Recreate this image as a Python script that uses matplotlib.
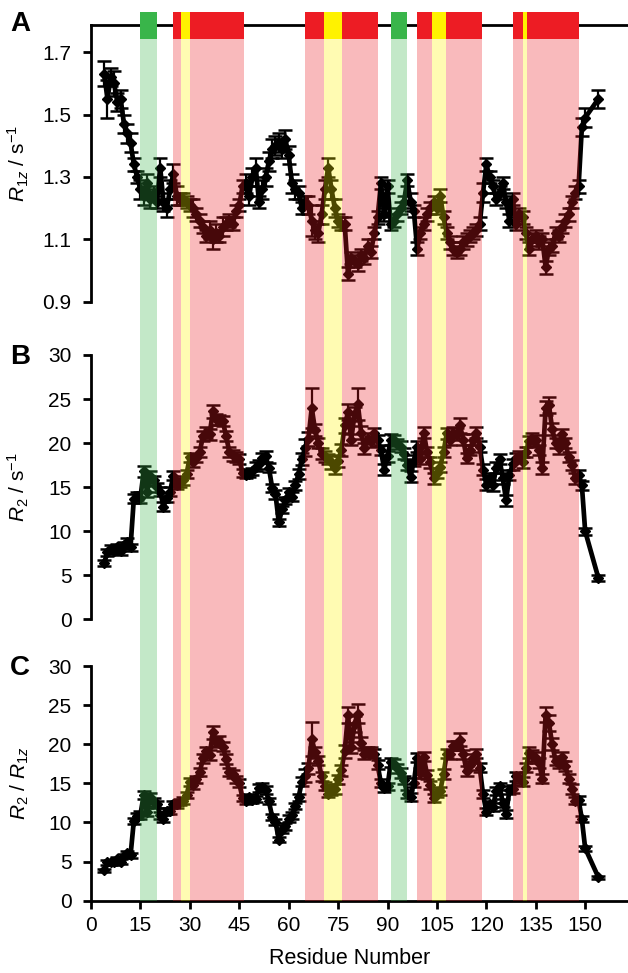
import matplotlib
matplotlib.use('Agg')
import matplotlib.pyplot as plt

plt.rcParams['font.family'] = ['Liberation Sans', 'DejaVu Sans']
plt.rcParams['mathtext.fontset'] = 'custom'
plt.rcParams['mathtext.rm'] = 'Liberation Sans'
plt.rcParams['mathtext.it'] = 'Liberation Sans:italic'

# residue numbers
residues = list(range(4, 151)) + [154]

r1z = [1.63, 1.55, 1.62, 1.60, 1.54, 1.55, 1.47, 1.44, 1.41, 1.34,
       1.30, 1.26, 1.24, 1.28, 1.23, 1.25, 1.22, 1.33, 1.22, 1.20,
       1.26, 1.31, 1.24, 1.23, 1.23, 1.22, 1.21, 1.20, 1.18, 1.16,
       1.14, 1.11, 1.13, 1.10, 1.12, 1.11, 1.14, 1.15, 1.16, 1.15,
       1.19, 1.21, 1.27, 1.28, 1.24, 1.30, 1.33, 1.22, 1.26, 1.30,
       1.35, 1.39, 1.40, 1.41, 1.39, 1.42, 1.37, 1.28, 1.26, 1.25,
       1.20, 1.22, 1.21, 1.16, 1.13, 1.12, 1.18, 1.26, 1.33, 1.26,
       1.20, 1.16, 1.15, 1.15, 0.99, 1.04, 1.03, 1.02, 1.05, 1.04,
       1.08, 1.06, 1.12, 1.17, 1.28, 1.18, 1.27, 1.15, 1.16, 1.18,
       1.20, 1.22, 1.29, 1.22, 1.19, 1.07, 1.12, 1.15, 1.18, 1.20,
       1.22, 1.20, 1.24, 1.17, 1.12, 1.09, 1.07, 1.06, 1.07, 1.09,
       1.10, 1.11, 1.12, 1.13, 1.15, 1.25, 1.34, 1.30, 1.27, 1.23,
       1.25, 1.28, 1.22, 1.16, 1.23, 1.15, 1.18, 1.17, 1.12, 1.07,
       1.10, 1.11, 1.09, 1.10, 1.01, 1.07, 1.08, 1.12, 1.11, 1.14,
       1.16, 1.18, 1.22, 1.25, 1.27, 1.46, 1.49, 1.55]
r1z_err = [0.04, 0.06, 0.03, 0.04, 0.03, 0.03, 0.03, 0.03, 0.03, 0.02,
           0.02, 0.03, 0.03, 0.03, 0.03, 0.02, 0.02, 0.03, 0.03, 0.03,
           0.03, 0.03, 0.03, 0.02, 0.02, 0.02, 0.02, 0.03, 0.02, 0.02,
           0.02, 0.02, 0.03, 0.03, 0.03, 0.02, 0.03, 0.02, 0.02, 0.02,
           0.02, 0.02, 0.02, 0.03, 0.03, 0.03, 0.03, 0.02, 0.03, 0.03,
           0.03, 0.03, 0.03, 0.03, 0.03, 0.03, 0.03, 0.03, 0.03, 0.02,
           0.02, 0.02, 0.03, 0.05, 0.03, 0.03, 0.03, 0.03, 0.03, 0.03,
           0.03, 0.02, 0.02, 0.02, 0.02, 0.02, 0.02, 0.02, 0.02, 0.02,
           0.02, 0.02, 0.02, 0.02, 0.02, 0.02, 0.02, 0.02, 0.02, 0.02,
           0.02, 0.02, 0.02, 0.03, 0.02, 0.02, 0.02, 0.02, 0.02, 0.02,
           0.02, 0.02, 0.02, 0.02, 0.02, 0.02, 0.02, 0.02, 0.02, 0.02,
           0.02, 0.02, 0.02, 0.02, 0.02, 0.03, 0.02, 0.02, 0.02, 0.02,
           0.02, 0.02, 0.02, 0.02, 0.02, 0.02, 0.02, 0.02, 0.02, 0.02,
           0.02, 0.02, 0.02, 0.02, 0.02, 0.02, 0.02, 0.02, 0.02, 0.02,
           0.02, 0.02, 0.02, 0.02, 0.02, 0.03, 0.03, 0.03]

r2 = [6.4, 7.6, 8.0, 7.8, 8.2, 7.7, 8.4, 8.8, 8.2, 13.7,
      14.0, 13.8, 16.8, 14.5, 16.3, 15.8, 15.0, 14.5, 12.8, 13.8,
      14.5, 16.3, 15.3, 15.5, 15.8, 16.5, 18.4, 17.8, 18.3, 19.0,
      20.8, 21.2, 21.0, 23.6, 22.7, 22.6, 22.5, 20.8, 19.0, 18.6,
      18.4, 18.2, 16.6, 16.4, 16.5, 16.8, 17.3, 17.6, 18.3, 18.5,
      17.2, 14.9, 14.2, 11.0, 12.5, 13.5, 14.4, 13.9, 15.2, 16.5,
      18.2, 19.5, 20.5, 24.0, 21.5, 20.0, 18.8, 18.5, 18.2, 17.8,
      17.2, 18.0, 19.2, 22.0, 23.5, 20.4, 23.3, 24.4, 21.2, 19.4,
      20.5, 20.2, 21.1, 20.3, 19.2, 17.0, 18.5, 20.4, 20.3, 19.9,
      19.6, 18.8, 17.5, 16.2, 18.0, 19.6, 18.2, 21.2, 19.0, 17.8,
      16.0, 16.6, 17.3, 19.0, 21.1, 20.4, 21.2, 21.0, 22.0, 20.4,
      18.3, 19.2, 20.4, 21.2, 19.6, 17.0, 15.3, 16.0, 15.2, 17.2,
      18.2, 16.0, 13.5, 16.4, 17.6, 18.3, 18.5, 17.8, 19.0, 20.2,
      20.5, 20.3, 19.2, 17.2, 24.0, 24.3, 21.6, 20.0, 19.4, 21.0,
      20.0, 18.4, 17.5, 16.0, 16.4, 15.2, 10.0, 4.7]
r2_err = [0.3, 0.4, 0.4, 0.4, 0.4, 0.4, 0.4, 0.4, 0.4, 0.5,
          0.5, 0.6, 0.6, 0.6, 0.5, 0.5, 0.5, 0.5, 0.5, 0.5,
          0.5, 0.5, 0.5, 0.5, 0.5, 0.5, 0.5, 0.5, 0.5, 0.6,
          0.6, 0.6, 0.6, 0.7, 0.6, 0.6, 0.6, 0.6, 0.6, 0.6,
          0.6, 0.6, 0.5, 0.4, 0.4, 0.4, 0.5, 0.5, 0.6, 0.6,
          0.5, 0.5, 0.5, 0.4, 0.4, 0.4, 0.5, 0.5, 0.5, 0.6,
          0.7, 1.0, 0.8, 2.3, 0.7, 0.6, 0.6, 0.6, 0.6, 0.7,
          0.7, 0.7, 0.7, 0.8, 0.9, 0.6, 0.8, 1.8, 0.7, 0.6,
          0.6, 0.6, 0.6, 0.6, 0.6, 0.6, 0.6, 0.6, 0.6, 0.6,
          0.6, 0.6, 0.6, 0.6, 0.6, 0.6, 0.6, 0.6, 0.6, 0.6,
          0.6, 0.6, 0.6, 0.6, 0.6, 0.6, 0.6, 0.7, 0.9, 0.6,
          0.6, 0.6, 0.6, 0.6, 0.6, 0.6, 0.6, 0.6, 0.6, 0.6,
          0.6, 0.6, 0.6, 0.6, 0.6, 0.6, 0.6, 0.6, 0.6, 0.6,
          0.6, 0.6, 0.6, 0.7, 0.8, 0.9, 0.7, 0.6, 0.6, 0.6,
          0.6, 0.6, 0.6, 0.6, 0.6, 0.5, 0.4, 0.3]

ratio = [3.9, 4.9, 4.9, 4.9, 5.3, 5.0, 5.7, 6.1, 5.8, 10.2,
         10.8, 11.0, 13.5, 11.3, 13.3, 12.6, 12.3, 10.9, 10.5, 11.5,
         11.5, 12.4, 12.3, 12.6, 12.8, 13.5, 15.2, 14.8, 15.5, 16.4,
         18.2, 19.1, 18.6, 21.5, 20.3, 20.4, 19.7, 18.1, 16.4, 16.2,
         15.5, 15.0, 13.1, 12.8, 13.3, 12.9, 13.0, 14.4, 14.5, 14.2,
         12.7, 10.7, 10.1, 7.8, 9.0, 9.5, 10.5, 10.9, 12.1, 13.2,
         15.2, 16.0, 16.9, 20.7, 19.0, 17.9, 15.9, 14.7, 13.7, 14.1,
         14.3, 15.5, 16.7, 19.1, 23.7, 19.6, 22.6, 23.9, 20.2, 18.7,
         19.0, 19.1, 18.8, 17.4, 15.0, 14.4, 14.6, 17.7, 17.5, 16.9,
         16.3, 15.4, 13.6, 13.3, 15.1, 18.3, 16.3, 18.4, 16.1, 14.8,
         13.1, 13.8, 14.0, 16.2, 18.8, 18.7, 19.8, 19.8, 20.6, 18.7,
         16.6, 17.3, 18.2, 18.8, 17.0, 13.6, 11.4, 12.3, 12.0, 14.0,
         14.6, 12.5, 11.1, 14.1, 14.3, 15.9, 15.7, 15.2, 17.0, 18.9,
         18.6, 18.3, 17.6, 15.6, 23.8, 22.7, 20.0, 17.9, 17.5, 18.4,
         17.2, 15.6, 14.3, 12.8, 12.9, 10.4, 6.7, 3.0]
ratio_err = [0.2, 0.3, 0.3, 0.3, 0.3, 0.3, 0.3, 0.3, 0.3, 0.4,
             0.4, 0.5, 0.5, 0.5, 0.5, 0.5, 0.5, 0.4, 0.4, 0.4,
             0.4, 0.4, 0.4, 0.4, 0.4, 0.4, 0.5, 0.5, 0.5, 0.5,
             0.6, 0.6, 0.6, 0.8, 0.6, 0.6, 0.6, 0.6, 0.5, 0.5,
             0.5, 0.5, 0.4, 0.4, 0.4, 0.4, 0.4, 0.5, 0.5, 0.5,
             0.4, 0.4, 0.4, 0.3, 0.3, 0.4, 0.4, 0.4, 0.4, 0.5,
             0.6, 0.8, 0.7, 2.2, 0.7, 0.6, 0.6, 0.5, 0.5, 0.6,
             0.6, 0.6, 0.7, 0.8, 1.0, 0.7, 1.0, 1.2, 0.7, 0.6,
             0.6, 0.6, 0.6, 0.6, 0.5, 0.5, 0.5, 0.6, 0.6, 0.6,
             0.6, 0.5, 0.5, 0.5, 0.6, 0.6, 0.6, 0.6, 0.6, 0.5,
             0.5, 0.5, 0.5, 0.6, 0.6, 0.6, 0.6, 0.6, 0.8, 0.6,
             0.6, 0.6, 0.6, 0.6, 0.6, 0.5, 0.5, 0.5, 0.5, 0.5,
             0.5, 0.5, 0.5, 0.5, 0.5, 0.6, 0.6, 0.6, 0.6, 0.7,
             0.7, 0.7, 0.6, 0.6, 1.0, 1.0, 0.8, 0.6, 0.6, 0.6,
             0.6, 0.6, 0.6, 0.5, 0.5, 0.4, 0.3, 0.2]

# secondary structure segments (r = red, y = yellow, g = green)
ss_start = [15, 25, 27.3, 30, 65, 70.7, 76.2, 91, 99, 103.5, 107.8, 128, 131.2, 132.2]
ss_end = [20, 27.3, 30, 46.3, 70.7, 76.2, 87.1, 96, 103.5, 107.8, 118.6, 131.2, 132.2, 148.1]
ss_type = ['g', 'r', 'y', 'r', 'r', 'y', 'r', 'g', 'r', 'y', 'r', 'r', 'y', 'r']
ss_colors = {'r': '#ED1C24', 'y': '#FFF200', 'g': '#39B54A'}

W, H = 628, 973
fig = plt.figure(figsize=(W / 100, H / 100), dpi=100)


def px_axes(left, top, right, bottom):
    return fig.add_axes([left / W, 1 - bottom / H, (right - left) / W, (bottom - top) / H])


XMAX = 163
axA = px_axes(91, 25, 628, 301.7)
axB = px_axes(91, 355, 628, 619.3)
axC = px_axes(91, 666, 628, 900.7)

panels = [
    (axA, r1z, r1z_err, (0.9, 1.787), [0.9, 1.1, 1.3, 1.5, 1.7], r'$R_{1z}$ / s$^{-1}$'),
    (axB, r2, r2_err, (0, 30), [0, 5, 10, 15, 20, 25, 30], r'$R_{2}$ / s$^{-1}$'),
    (axC, ratio, ratio_err, (0, 30), [0, 5, 10, 15, 20, 25, 30], r'$R_{2}$ / $R_{1z}$'),
]

for ax, vals, errs, ylim, yticks, ylab in panels:
    ax.errorbar(residues, vals, yerr=errs, color='black', lw=3.4, marker='D', ms=5,
                ecolor='black', elinewidth=1.6, capsize=5, capthick=1.8, clip_on=False)
    ax.set_xlim(0, XMAX)
    ax.set_ylim(*ylim)
    ax.set_yticks(yticks)
    ax.set_yticklabels(['%g' % t for t in yticks])
    ax.patch.set_visible(False)
    for s in ['right', 'bottom', 'top']:
        ax.spines[s].set_visible(False)
    ax.spines['left'].set_linewidth(2)
    ax.tick_params(axis='y', direction='out', length=6, width=2, labelsize=15, pad=8)
    ax.set_ylabel(ylab, fontsize=15)
    ax.yaxis.set_label_coords(-0.112, 0.5)
    ax.set_xticks([])

axA.spines['top'].set_visible(True)
axA.spines['top'].set_linewidth(2)

axC.spines['bottom'].set_visible(True)
axC.spines['bottom'].set_linewidth(2)
axC.set_xticks(range(0, 151, 15))
axC.tick_params(axis='x', direction='out', length=6, width=2, labelsize=15, pad=5)
axC.set_xlabel('Residue Number', fontsize=15.5)
axC.xaxis.set_label_coords((350 - 91) / (628 - 91), -0.2)

# panel letters
fig.text(10 / W, 1 - 24 / H, 'A', fontsize=20, fontweight='bold', va='center')
fig.text(10 / W, 1 - 357 / H, 'B', fontsize=20, fontweight='bold', va='center')
fig.text(10 / W, 1 - 668 / H, 'C', fontsize=20, fontweight='bold', va='center')

# translucent shading laid over all three panels
shade = px_axes(91, 39, 628, 900.7)
shade.set_xlim(0, XMAX)
shade.set_ylim(0, 1)
shade.axis('off')
for a, b, k in zip(ss_start, ss_end, ss_type):
    shade.axvspan(a, b, color=ss_colors[k], alpha=0.3, lw=0)

# solid secondary structure bar on the top line
bar = px_axes(91, 12, 628, 39)
bar.set_xlim(0, XMAX)
bar.set_ylim(0, 1)
bar.axis('off')
for a, b, k in zip(ss_start, ss_end, ss_type):
    bar.axvspan(a, b, color=ss_colors[k], lw=0)

fig.savefig('out.png', dpi=100)
